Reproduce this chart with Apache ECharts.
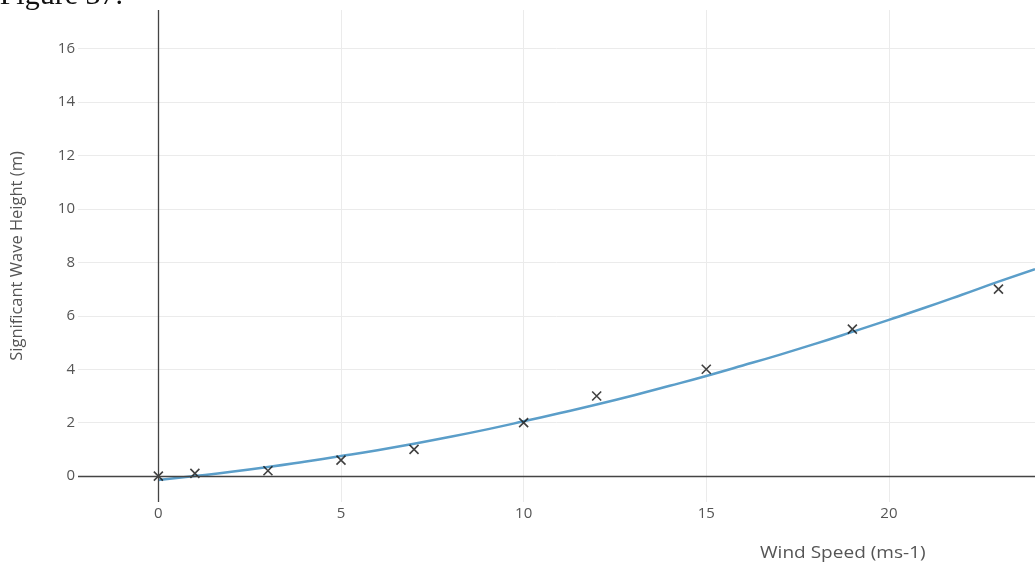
<!DOCTYPE html>
<html>
<head>
<meta charset="utf-8">
<script src="https://cdn.jsdelivr.net/npm/echarts@6/dist/echarts.min.js"></script>
<style>html,body{margin:0;padding:0;background:#fff}#c{width:1035px;height:568px}</style>
</head>
<body>
<div id="c"></div>
<script>
const windSpeed = [0, 1, 3, 5, 7, 10, 12, 15, 19, 23];
const waveHeight = [0, 0.1, 0.2, 0.6, 1.0, 2.0, 3.0, 4.0, 5.5, 7.0];
const fitX = [0, 1, 2, 3, 4, 5, 6, 7, 8, 9, 10, 11, 12, 13, 14, 15, 16, 17, 18, 19, 20, 21, 22, 23, 24];
const fitY = [-0.15, 0.0, 0.16, 0.34, 0.54, 0.75, 0.97, 1.21, 1.47, 1.75, 2.05, 2.36, 2.68, 3.02, 3.38, 3.75, 4.14, 4.54, 4.96, 5.40, 5.85, 6.31, 6.79, 7.28, 7.75];
const xTicks = [0, 5, 10, 15, 20];
const yTicks = [0, 2, 4, 6, 8, 10, 12, 14, 16];

const chart = echarts.init(document.getElementById('c'));
const labelFont = {color: '#555', fontSize: 15, fontFamily: 'Open Sans'};
chart.setOption({
  animation: false,
  grid: {left: 78, right: 0, top: 10, bottom: 66},
  xAxis: {
    type: 'value', min: -2.2, max: 24,
    axisLine: {show: false}, axisTick: {show: false, customValues: xTicks},
    axisLabel: Object.assign({customValues: xTicks, margin: 4}, labelFont),
    splitLine: {show: true, lineStyle: {color: '#ebebeb', width: 1}}
  },
  yAxis: {
    type: 'value', min: -0.97, max: 17.45,
    name: 'Significant Wave Height (m)', nameLocation: 'middle', nameGap: 52,
    nameTextStyle: {color: '#555', fontSize: 16.5, fontFamily: 'Open Sans'},
    axisLine: {show: false}, axisTick: {show: false, customValues: yTicks},
    axisLabel: Object.assign({customValues: yTicks, margin: 3}, labelFont),
    splitLine: {show: true, lineStyle: {color: '#ebebeb', width: 1}}
  },
  graphic: [
    {type: 'text', x: 760, y: 545, scaleX: 1.12, style: {text: 'Wind Speed (ms-1)', fill: '#555', font: '17px "Open Sans"'}},
    {type: 'text', x: 123, y: -19, style: {text: 'Figure 37.', fill: '#111', font: '30px "Liberation Serif"', align: 'right'}}
  ],
  series: [
    {
      type: 'line', data: fitX.map((x, i) => [x, fitY[i]]), smooth: true, symbol: 'none',
      lineStyle: {color: '#5b9ec9', width: 2.5}, z: 3,
      markLine: {
        silent: true, symbol: 'none', label: {show: false},
        lineStyle: {color: '#444', width: 1.3, type: 'solid'},
        data: [{xAxis: 0}, {yAxis: 0}]
      }
    },
    {
      type: 'scatter', data: windSpeed.map((x, i) => [x, waveHeight[i]]),
      symbol: 'path://M0,0L10,10M10,0L0,10', symbolSize: 9,
      itemStyle: {color: 'none', borderColor: '#111', borderWidth: 1.6}, z: 4
    }
  ]
});
</script>
</body>
</html>
